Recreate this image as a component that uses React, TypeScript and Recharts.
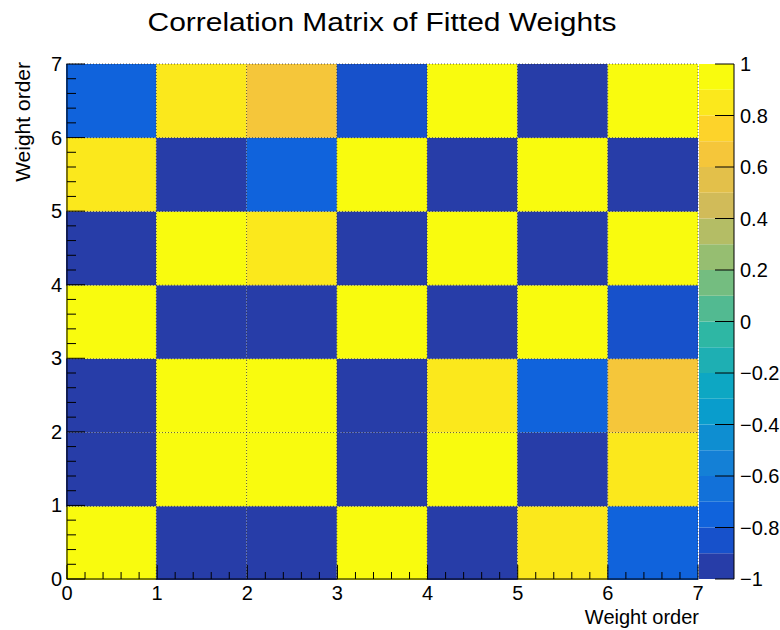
import {
  ScatterChart,
  Scatter,
  XAxis,
  YAxis,
  ReferenceArea,
  ReferenceLine,
} from "recharts";

// weight index of each bin (x and y use the same one)
const weightOrder = [0, 1, 2, 3, 4, 5, 6];
const gridLines = [1, 2, 3, 4, 5, 6, 7];

// correlation coefficients, one array per row, row 0 at the bottom
const corrRow0 = [1, -0.97, -0.96, 0.97, -0.95, 0.86, -0.74];
const corrRow1 = [-0.97, 1, 0.98, -0.96, 0.95, -0.94, 0.87];
const corrRow2 = [-0.96, 0.98, 1, -0.97, 0.88, -0.76, 0.67];
const corrRow3 = [0.97, -0.96, -0.97, 1, -0.96, 0.95, -0.83];
const corrRow4 = [-0.95, 0.95, 0.88, -0.96, 1, -0.97, 0.96];
const corrRow5 = [0.86, -0.94, -0.76, 0.95, -0.97, 1, -0.95];
const corrRow6 = [-0.74, 0.87, 0.67, -0.83, 0.96, -0.95, 1];

// z axis: 20 contours between -1 and 1
const contourLevels = [
  -1, -0.9, -0.8, -0.7, -0.6, -0.5, -0.4, -0.3, -0.2, -0.1, 0,
  0.1, 0.2, 0.3, 0.4, 0.5, 0.6, 0.7, 0.8, 0.9, 1,
];
const zTicks = [-1, -0.8, -0.6, -0.4, -0.2, 0, 0.2, 0.4, 0.6, 0.8, 1];

// kBird palette sampled for the 20 contours
const palette = [
  "#273da8", "#1751cb", "#1063dc", "#1271d9", "#1480d6",
  "#0e8ed1", "#099dcc", "#0da7c3", "#1eafb3", "#2eb7a4",
  "#52ba91", "#74bd80", "#96be71", "#b4bd65", "#d1bb59",
  "#e3c04a", "#f5c63a", "#fdd32a", "#fbe81c", "#f9fb0e",
];

const rows = [corrRow0, corrRow1, corrRow2, corrRow3, corrRow4, corrRow5, corrRow6];

const cells = rows.flatMap((row, j) =>
  weightOrder.map((i) => ({ x: i, y: weightOrder[j], z: row[i] }))
);

const bands = palette.map((color, k) => ({
  lo: contourLevels[k],
  hi: contourLevels[k + 1],
  color,
}));

const FONT = '"Liberation Sans", Arial, Helvetica, sans-serif';
const W = 780;
const H = 630;

function colorFor(z: number) {
  const lo = contourLevels[0];
  const step = contourLevels[1] - contourLevels[0];
  let k = Math.floor((z - lo) / step + 1e-9);
  if (k < 0) k = 0;
  if (k > palette.length - 1) k = palette.length - 1;
  return palette[k];
}

// minor tick positions every 0.2
const minorTicks = Array.from({ length: 36 }, (_, k) => Math.round(k * 2) / 10);
const isMajor = (v: number) => Math.abs(v - Math.round(v)) < 1e-6;

const XTick = (props: any) => {
  const { x, y, payload } = props;
  const v = payload.value;
  const major = isMajor(v);
  return (
    <g>
      <line x1={x} x2={x} y1={y} y2={y - (major ? 14 : 7)} stroke="#000" strokeWidth={1} />
      {major && (
        <text x={x} y={y + 14} textAnchor="middle" dominantBaseline="central" fontSize={20} fontFamily={FONT} fill="#000">
          {Math.round(v)}
        </text>
      )}
    </g>
  );
};

const YTick = (props: any) => {
  const { x, y, payload } = props;
  const v = payload.value;
  const major = isMajor(v);
  return (
    <g>
      <line x1={x} x2={x + (major ? 18 : 9)} y1={y} y2={y} stroke="#000" strokeWidth={1} />
      {major && (
        <text x={x - 5} y={y} textAnchor="end" dominantBaseline="central" fontSize={20} fontFamily={FONT} fill="#000">
          {Math.round(v)}
        </text>
      )}
    </g>
  );
};

const ZTick = (props: any) => {
  const { x, y, payload } = props;
  const v = payload.value;
  const label = v < 0 ? "\u2212" + Math.abs(v) : String(v);
  return (
    <g>
      <line x1={x} x2={x - 19} y1={y} y2={y} stroke="#000" strokeWidth={1} />
      <text x={x + 6} y={y} textAnchor="start" dominantBaseline="central" fontSize={20} fontFamily={FONT} fill="#000">
        {label}
      </text>
    </g>
  );
};

// the axes are drawn in a chart of their own on top of the cells
export default function App() {
  const layer = { position: "absolute" as const, left: 0, top: 0 };
  return (
    <div style={{ position: "absolute", left: 0, top: 0, width: W, height: H, background: "#fff" }}>
      <div style={layer}>
        <ScatterChart width={W} height={H} margin={{ top: 64, right: 82, bottom: 50, left: 66 }}>
          <XAxis type="number" dataKey="x" domain={[0, 7]} height={1} hide />
          <YAxis type="number" dataKey="y" domain={[0, 7]} width={1} hide />
          {cells.map((c) => (
            <ReferenceArea
              key={`c${c.x}-${c.y}`}
              x1={c.x}
              x2={c.x + 1}
              y1={c.y}
              y2={c.y + 1}
              fill={colorFor(c.z)}
              fillOpacity={1}
              stroke="none"
            />
          ))}
          {gridLines.map((g) => (
            <ReferenceLine key={`gx${g}`} x={g} stroke="#222" strokeOpacity={0.7} strokeDasharray="1 2" />
          ))}
          {gridLines.map((g) => (
            <ReferenceLine key={`gy${g}`} y={g} stroke="#222" strokeOpacity={0.7} strokeDasharray="1 2" />
          ))}
          <Scatter
            data={cells.map((c) => ({ x: c.x + 0.5, y: c.y + 0.5 }))}
            shape={() => <g />}
            isAnimationActive={false}
          />
        </ScatterChart>
      </div>

      <div style={layer}>
        <ScatterChart width={W} height={H} margin={{ top: 64, right: 82, bottom: 50, left: 66 }}>
          <XAxis
            type="number"
            dataKey="x"
            domain={[0, 7]}
            ticks={minorTicks}
            interval={0}
            height={1}
            tickSize={0}
            tickMargin={0}
            tickLine={false}
            axisLine={{ stroke: "#000" }}
            tick={<XTick />}
          />
          <YAxis
            type="number"
            dataKey="y"
            domain={[0, 7]}
            ticks={minorTicks}
            interval={0}
            width={1}
            tickSize={0}
            tickMargin={0}
            tickLine={false}
            axisLine={{ stroke: "#000" }}
            tick={<YTick />}
          />
          <Scatter
            data={cells.map((c) => ({ x: c.x + 0.5, y: c.y + 0.5 }))}
            shape={() => <g />}
            isAnimationActive={false}
          />
        </ScatterChart>
      </div>

      <div style={layer}>
        <ScatterChart width={W} height={H} margin={{ top: 64, right: 45, bottom: 51, left: 699 }}>
          <XAxis type="number" dataKey="x" domain={[0, 1]} hide />
          <YAxis
            type="number"
            dataKey="y"
            orientation="right"
            domain={[-1, 1]}
            ticks={zTicks}
            interval={0}
            width={1}
            tickSize={0}
            tickMargin={0}
            tickLine={false}
            axisLine={{ stroke: "#000" }}
            tick={<ZTick />}
          />
          {bands.map((b) => (
            <ReferenceArea
              key={`b${b.lo}`}
              x1={0}
              x2={1}
              y1={b.lo}
              y2={b.hi}
              fill={b.color}
              fillOpacity={1}
              stroke="none"
            />
          ))}
          <Scatter
            data={bands.map((b) => ({ x: 0.5, y: (b.lo + b.hi) / 2 }))}
            shape={() => <g />}
            isAnimationActive={false}
          />
        </ScatterChart>
      </div>

      <svg width={W} height={H} style={{ ...layer, pointerEvents: "none" }}>
        <text
          x={382}
          y={22}
          textAnchor="middle"
          dominantBaseline="central"
          fontSize={26}
          textLength={469}
          lengthAdjust="spacingAndGlyphs"
          fontFamily={FONT}
          fill="#000"
        >
          Correlation Matrix of Fitted Weights
        </text>
        <text x={699} y={617} textAnchor="end" dominantBaseline="central" fontSize={20} fontFamily={FONT} fill="#000">
          Weight order
        </text>
        <text
          transform="translate(22,62) rotate(-90)"
          textAnchor="end"
          dominantBaseline="central"
          fontSize={21}
          fontFamily={FONT}
          fill="#000"
        >
          Weight order
        </text>
      </svg>
    </div>
  );
}
